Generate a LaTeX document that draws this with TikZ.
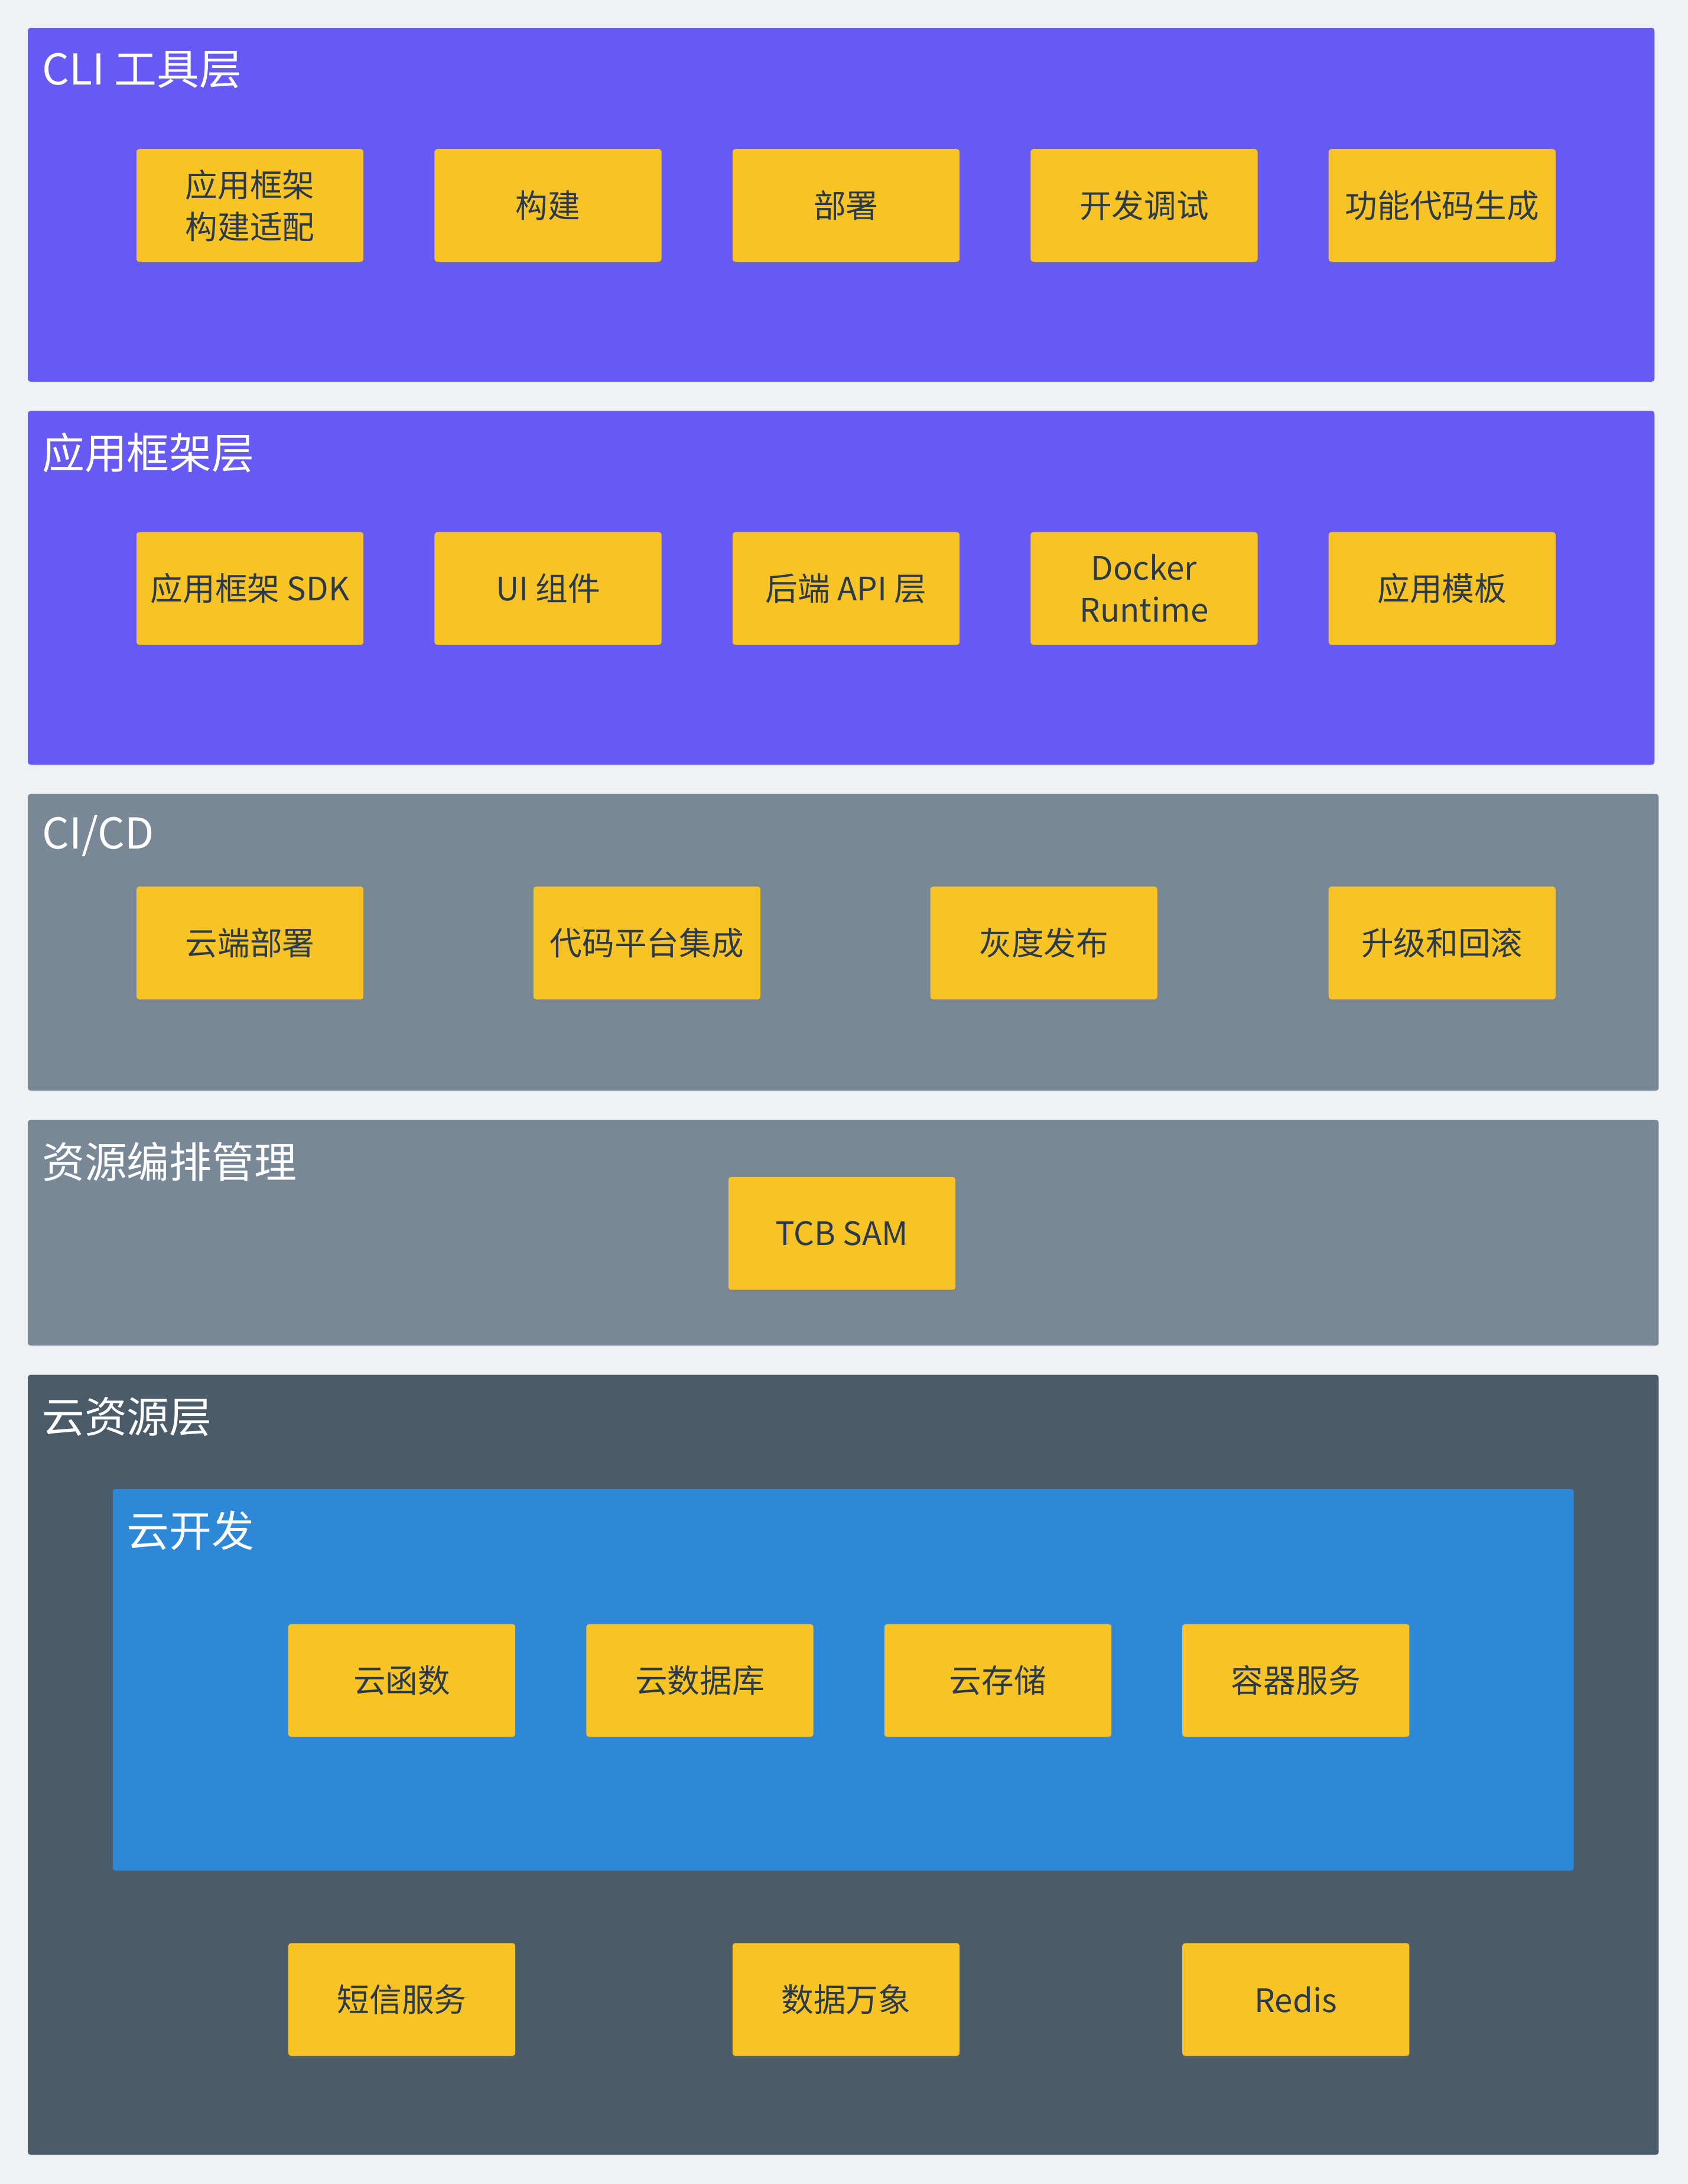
\documentclass[tikz,border=0pt]{standalone}
\usepackage{fontspec}
\setmainfont{Noto Sans CJK SC}
\usetikzlibrary{shadows}
\definecolor{bgc}{HTML}{EEF2F5}
\definecolor{purp}{HTML}{6659F4}
\definecolor{grayl}{HTML}{788896}
\definecolor{darkl}{HTML}{4A5B6A}
\definecolor{bluel}{HTML}{2D88D8}
\definecolor{yel}{HTML}{F7C325}
\definecolor{txt}{HTML}{2B3A48}
\tikzset{
  layer/.style={fill=#1, rounded corners=2pt, draw=none, drop shadow={opacity=0.08, shadow xshift=0pt, shadow yshift=-1pt}},
  ttl/.style={anchor=west, text=white, font=\fontsize{30.5}{36}\selectfont, inner sep=0pt},
  cbox/.style={fill=yel, rounded corners=2pt, minimum width=163pt, minimum height=81pt, inner sep=0pt, text=txt, align=center,
    font=\fontsize{23.2}{30}\selectfont, drop shadow={opacity=0.15, shadow xshift=0pt, shadow yshift=-2pt}}
}
\begin{document}
\begin{tikzpicture}[x=1pt,y=-1pt]
\fill[bgc] (0,0) rectangle (1212,1568);
\useasboundingbox (0,0) rectangle (1212,1568);
% layer 1
\path[layer=purp] (20,20) rectangle (1188,274);
\node[ttl] (t1) at (30,50) {CLI 工具层};
\node[cbox] (a1) at (179.5,147.5) {应用框架\\构建适配};
\node[cbox] (a2) at (393.5,147.5) {构建};
\node[cbox] (a3) at (607.5,147.5) {部署};
\node[cbox] (a4) at (821.5,147.5) {开发调试};
\node[cbox] (a5) at (1035.5,147.5) {功能代码生成};
% layer 2
\path[layer=purp] (20,295) rectangle (1188,549);
\node[ttl] (t2) at (30,325) {应用框架层};
\node[cbox] (b1) at (179.5,422.5) {应用框架 SDK};
\node[cbox] (b2) at (393.5,422.5) {UI 组件};
\node[cbox] (b3) at (607.5,422.5) {后端 API 层};
\node[cbox] (b4) at (821.5,422.5) {Docker\\Runtime};
\node[cbox] (b5) at (1035.5,422.5) {应用模板};
% layer 3
\path[layer=grayl] (20,570) rectangle (1191,783);
\node[ttl] (t3) at (30,600) {CI/CD};
\node[cbox] (c1) at (179.5,677) {云端部署};
\node[cbox] (c2) at (464.5,677) {代码平台集成};
\node[cbox] (c3) at (749.5,677) {灰度发布};
\node[cbox] (c4) at (1035.5,677) {升级和回滚};
% layer 4
\path[layer=grayl] (20,804) rectangle (1191,966);
\node[ttl] (t4) at (30,834) {资源编排管理};
\node[cbox] (d1) at (604.5,885.5) {TCB SAM};
% layer 5
\path[layer=darkl] (20,987) rectangle (1191,1547);
\node[ttl] (t5) at (30,1017) {云资源层};
\path[layer=bluel] (81,1069) rectangle (1130,1343);
\node[ttl] (t6) at (91,1099) {云开发};
\node[cbox] (e1) at (288.5,1206.5) {云函数};
\node[cbox] (e2) at (502.5,1206.5) {云数据库};
\node[cbox] (e3) at (716.5,1206.5) {云存储};
\node[cbox] (e4) at (930.5,1206.5) {容器服务};
\node[cbox] (f1) at (288.5,1435.5) {短信服务};
\node[cbox] (f2) at (607.5,1435.5) {数据万象};
\node[cbox] (f3) at (930.5,1435.5) {Redis};
\end{tikzpicture}
\end{document}
